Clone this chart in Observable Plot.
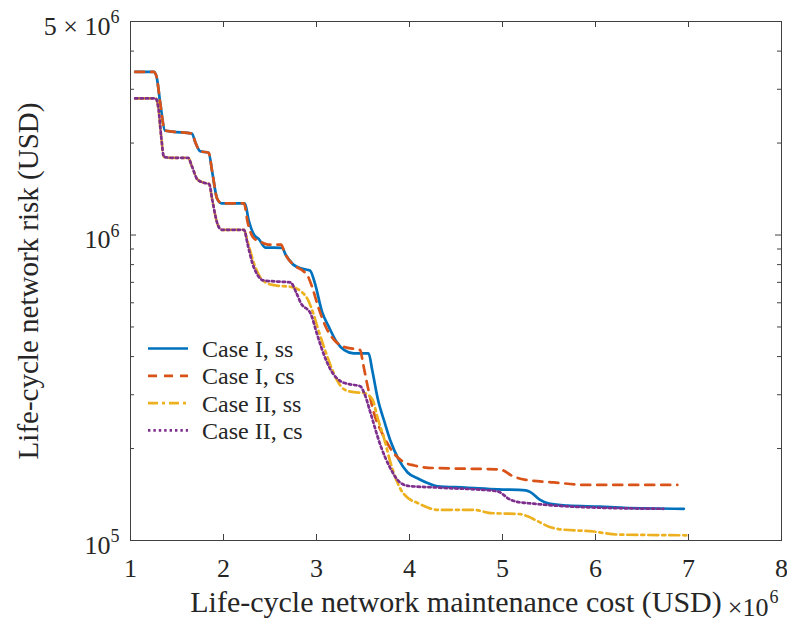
<!DOCTYPE html>
<html><head><meta charset="utf-8">
<script src="https://cdn.jsdelivr.net/npm/d3@7"></script>
<script src="https://cdn.jsdelivr.net/npm/@observablehq/plot@0.6"></script>
<style>body{margin:0;background:#fff} svg{font-family:"Liberation Serif","Times New Roman",serif}</style>
</head><body><div id="chart"></div>
<script>
// ---- data (cost in 10^6 USD, risk in USD) ----
const seriesNames = ["Case I, ss", "Case I, cs", "Case II, ss", "Case II, cs"];
const seriesColors = ["#0072BD", "#D95319", "#EDB120", "#7E2F8E"];
const seriesDash = [null, "9,7", "10,4,3,4", "2.4,3"];

const caseI_ss_x = [1.05,1.25,1.28,1.32,1.37,1.45,1.66,1.70,1.75,1.84,1.88,1.93,1.98,2.23,2.27,2.33,2.38,2.45,2.63,2.67,2.75,2.85,2.93,2.98,3.06,3.14,3.22,3.30,3.40,3.56,3.60,3.66,3.73,3.80,3.88,3.98,4.10,4.20,4.30,4.60,4.95,5.25,5.30,5.40,5.50,5.70,6.05,6.30,6.95];
const caseI_ss_y = [3.42e6,3.42e6,3.3e6,2.7e6,2.2e6,2.18e6,2.15e6,2.0e6,1.88e6,1.86e6,1.6e6,1.32e6,1.27e6,1.27e6,1.12e6,1.0e6,9.7e5,9.1e5,9.08e5,8.6e5,8.0e5,7.75e5,7.65e5,7.0e5,5.6e5,4.95e5,4.45e5,4.2e5,4.1e5,4.1e5,3.6e5,2.9e5,2.45e5,2.1e5,1.85e5,1.67e5,1.59e5,1.54e5,1.505e5,1.49e5,1.47e5,1.46e5,1.44e5,1.36e5,1.32e5,1.30e5,1.29e5,1.28e5,1.27e5];

const caseI_cs_x = [1.05,1.25,1.28,1.32,1.37,1.45,1.66,1.70,1.75,1.84,1.88,1.93,1.98,2.22,2.26,2.32,2.40,2.48,2.62,2.66,2.75,2.85,2.90,2.95,3.02,3.10,3.20,3.30,3.47,3.50,3.55,3.62,3.72,3.82,3.92,4.05,4.20,4.50,4.95,5.00,5.10,5.25,5.55,5.90,6.88];
const caseI_cs_y = [3.42e6,3.42e6,3.3e6,2.7e6,2.2e6,2.18e6,2.15e6,2.0e6,1.88e6,1.86e6,1.6e6,1.32e6,1.27e6,1.27e6,1.1e6,9.8e5,9.5e5,9.3e5,9.3e5,8.7e5,8.0e5,7.65e5,7.4e5,6.8e5,5.8e5,5.0e5,4.5e5,4.3e5,4.2e5,3.8e5,3.2e5,2.6e5,2.2e5,1.95e5,1.82e5,1.76e5,1.73e5,1.72e5,1.71e5,1.70e5,1.63e5,1.58e5,1.55e5,1.52e5,1.52e5];

const caseII_ss_x = [1.05,1.27,1.30,1.33,1.36,1.45,1.62,1.66,1.72,1.80,1.845,1.88,1.93,1.98,2.22,2.26,2.32,2.37,2.45,2.55,2.74,2.83,2.90,2.96,3.01,3.08,3.15,3.22,3.30,3.40,3.51,3.60,3.66,3.73,3.80,3.90,3.98,4.08,4.20,4.30,4.69,4.87,5.19,5.27,5.37,5.50,5.60,5.98,6.23,7.00];
const caseII_ss_y = [2.8e6,2.8e6,2.6e6,2.1e6,1.8e6,1.79e6,1.79e6,1.68e6,1.52e6,1.48e6,1.47e6,1.3e6,1.1e6,1.04e6,1.04e6,9.5e5,8.2e5,7.5e5,7.0e5,6.85e5,6.75e5,6.55e5,6.2e5,5.6e5,5.0e5,4.3e5,3.75e5,3.35e5,3.12e5,3.06e5,3.04e5,2.9e5,2.5e5,2.14e5,1.78e5,1.48e5,1.38e5,1.33e5,1.28e5,1.26e5,1.26e5,1.23e5,1.22e5,1.20e5,1.16e5,1.11e5,1.09e5,1.07e5,1.046e5,1.04e5];

const caseII_cs_x = [1.05,1.27,1.30,1.33,1.36,1.45,1.62,1.66,1.72,1.80,1.845,1.88,1.93,1.98,2.22,2.26,2.31,2.36,2.43,2.55,2.72,2.78,2.83,2.94,3.00,3.05,3.15,3.26,3.35,3.47,3.52,3.58,3.69,3.80,3.87,3.98,4.30,4.94,5.00,5.05,5.15,5.33,6.05,6.73];
const caseII_cs_y = [2.8e6,2.8e6,2.6e6,2.1e6,1.8e6,1.79e6,1.79e6,1.68e6,1.52e6,1.48e6,1.47e6,1.3e6,1.1e6,1.04e6,1.04e6,9.3e5,8.1e5,7.45e5,7.1e5,7.05e5,7.0e5,6.5e5,6.0e5,5.5e5,4.8e5,4.3e5,3.63e5,3.32e5,3.25e5,3.2e5,3.0e5,2.62e5,2.04e5,1.71e5,1.58e5,1.51e5,1.49e5,1.45e5,1.42e5,1.38e5,1.34e5,1.32e5,1.28e5,1.27e5];

const xTicks = [1,2,3,4,5,6,7,8];
const yMajorTicks = [1e5, 1e6];
const yMinorTicks = [2e5,3e5,4e5,5e5,6e5,7e5,8e5,9e5,2e6,3e6,4e6];
const yLabelTicks = [1e5, 1e6, 5e6];
const yLabelMain = ["10", "10", "5 \u00d7 10"];
const yLabelExp = ["5", "6", "6"];
const xLabel = "Life-cycle network maintenance cost (USD)";
const yLabel = "Life-cycle network risk (USD)";
const xMultiplierMain = "\u00d710";
const xMultiplierExp = "6";

// ---- build table ----
const xs = [caseI_ss_x, caseI_cs_x, caseII_ss_x, caseII_cs_x];
const ys = [caseI_ss_y, caseI_cs_y, caseII_ss_y, caseII_cs_y];
const series = seriesNames.map((name, i) => xs[i].map((x, j) => ({x, y: ys[i][j], name})));

const W = 787, H = 620, mT = 21, mB = 80, mL = 130, mR = 6;
const plotH = H - mT - mB, plotW = W - mL - mR;
const axisColor = "#404040", textColor = "#262626";
const font = "Liberation Serif";

const lineMarks = series.map((d, i) => Plot.line(d, {
  x: "x", y: "y", stroke: seriesColors[i], strokeWidth: 2.7,
  strokeDasharray: seriesDash[i], curve: "monotone-x"
}));

const chart = Plot.plot({
  width: W, height: H,
  marginTop: mT, marginBottom: mB, marginLeft: mL, marginRight: mR,
  style: {fontFamily: font, background: "white"},
  x: {domain: [1, 8], axis: null},
  y: {type: "log", domain: [1e5, 5e6], axis: null},
  marks: [
    // ticks (inward, on all four sides)
    Plot.tickX(xTicks, {x: d => d, insetTop: plotH - 6, stroke: axisColor}),
    Plot.tickX(xTicks, {x: d => d, insetBottom: plotH - 6, stroke: axisColor}),
    Plot.tickY(yMajorTicks, {y: d => d, insetRight: plotW - 6, stroke: axisColor}),
    Plot.tickY(yMajorTicks, {y: d => d, insetLeft: plotW - 6, stroke: axisColor}),
    Plot.tickY(yMinorTicks, {y: d => d, insetRight: plotW - 4, stroke: axisColor}),
    Plot.tickY(yMinorTicks, {y: d => d, insetLeft: plotW - 4, stroke: axisColor}),
    ...lineMarks,
    Plot.frame({stroke: axisColor, strokeWidth: 1}),
    // x tick labels
    Plot.text(xTicks, {x: d => d, frameAnchor: "bottom", dy: 36, lineAnchor: "bottom",
      text: d => String(d), fontSize: 26, fill: textColor}),
    // y tick labels
    Plot.text(yLabelTicks, {y: d => d, frameAnchor: "left", textAnchor: "end", dx: -20, dy: 13,
      lineAnchor: "bottom", text: (d, i) => yLabelMain[i], fontSize: 26, fill: textColor}),
    Plot.text(yLabelTicks, {y: d => d, frameAnchor: "left", textAnchor: "start", dx: -20, dy: 1.5,
      lineAnchor: "bottom", text: (d, i) => yLabelExp[i], fontSize: 18, fill: textColor}),
    // axis labels
    Plot.text([xLabel], {frameAnchor: "bottom", dy: 71, lineAnchor: "bottom",
      text: d => d, fontSize: 30, fill: textColor}),
    Plot.text([xMultiplierMain], {frameAnchor: "bottom-right", textAnchor: "end", dx: -13, dy: 75,
      lineAnchor: "bottom", text: d => d, fontSize: 26, fill: textColor}),
    Plot.text([xMultiplierExp], {frameAnchor: "bottom-right", textAnchor: "start", dx: -12, dy: 62,
      lineAnchor: "bottom", text: d => d, fontSize: 18, fill: textColor}),
    Plot.text([yLabel], {frameAnchor: "left", rotate: -90, dx: -93, textAnchor: "middle",
      lineAnchor: "bottom", text: d => d, fontSize: 29, fill: textColor})
  ]
});

// legend (inside the axes, no box)
const svg = d3.select(chart);
const lg = svg.append("g").attr("font-family", font).attr("text-anchor", "start");
seriesNames.forEach((name, i) => {
  const y = 348.5 + i * 27.3;
  lg.append("line").attr("x1", 148).attr("x2", 188).attr("y1", y).attr("y2", y)
    .attr("stroke", seriesColors[i]).attr("stroke-width", 2.7)
    .attr("stroke-dasharray", seriesDash[i]);
  lg.append("text").attr("x", 202).attr("y", y).attr("dy", "0.35em")
    .attr("text-anchor", "start")
    .attr("font-size", 24).attr("fill", textColor).text(name);
});

document.getElementById("chart").appendChild(chart);
</script>
</body></html>
